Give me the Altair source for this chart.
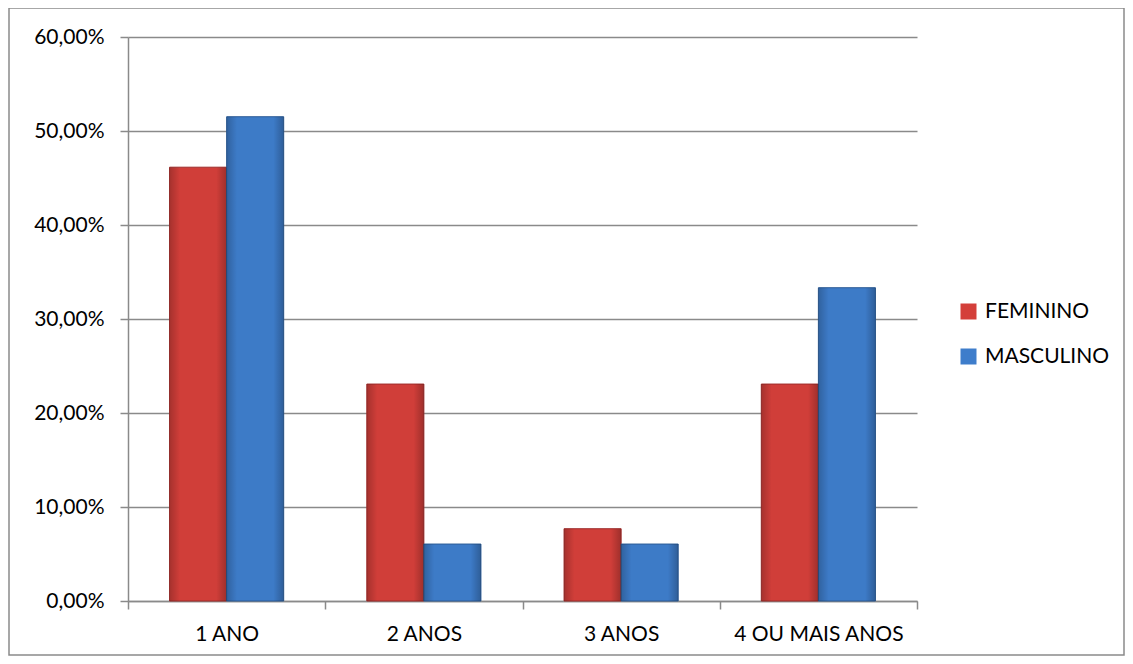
import altair as alt
import pandas as pd

categorias = ["1 ANO", "2 ANOS", "3 ANOS", "4 OU MAIS ANOS"]
series = ["FEMININO", "MASCULINO"]
feminino = [0.4615, 0.2308, 0.0769, 0.2308]
masculino = [0.5152, 0.0606, 0.0606, 0.3333]
cores = ["#D43F3A", "#3E7DCB"]
bordas = ["#A02E2C", "#2E5E98"]
y_ticks = [0, 0.1, 0.2, 0.3, 0.4, 0.5, 0.6]

rows = []
for c, f, m in zip(categorias, feminino, masculino):
    rows.append({"cat": c, "sexo": series[0], "valor": f})
    rows.append({"cat": c, "sexo": series[1], "valor": m})
df = pd.DataFrame(rows)

GRAY = "#8a8a8a"
FONT = "Lato"
FS = 21

x_enc = alt.X(
    "cat:N", sort=categorias, title=None,
    scale=alt.Scale(paddingInner=0, paddingOuter=0),
    axis=alt.Axis(labelAngle=0, tickBand="extent", tickSize=8, domainColor=GRAY,
                  tickColor=GRAY, domainWidth=1.5, tickWidth=1.5,
                  labelFont=FONT, labelFontSize=FS, labelColor="black",
                  labelPadding=14, grid=False),
)
y_enc = alt.Y(
    "valor:Q", title=None,
    scale=alt.Scale(domain=[0, 0.6], nice=False),
    axis=alt.Axis(values=y_ticks, labelExpr="replace(format(datum.value, '.2%'), '.', ',')",
                  tickSize=8, tickColor=GRAY, domainColor=GRAY, domainWidth=1.5, tickWidth=1.5,
                  grid=True, gridColor=GRAY, gridWidth=1.5,
                  labelFont=FONT, labelFontSize=FS, labelColor="black", labelPadding=16),
)
xoff = alt.XOffset("sexo:N", sort=series,
                   scale=alt.Scale(paddingInner=0, paddingOuter=0.728))

base = alt.Chart(df)

bars = base.mark_bar(strokeWidth=1).encode(
    x=x_enc,
    y=y_enc,
    xOffset=xoff,
    color=alt.Color("sexo:N", sort=series,
                    scale=alt.Scale(domain=series, range=cores),
                    legend=alt.Legend(title=None, orient="none", legendX=830, legendY=264,
                                      symbolType="square", symbolSize=256,
                                      symbolStrokeWidth=0,
                                      labelFont=FONT, labelFontSize=FS, labelColor="black",
                                      rowPadding=23, labelOffset=6)),
    stroke=alt.Stroke("sexo:N", sort=series,
                      scale=alt.Scale(domain=series, range=bordas), legend=None),
)

shade = base.mark_bar(
    fill={"gradient": "linear", "x1": 0, "x2": 1, "y1": 0, "y2": 0,
          "stops": [{"offset": 0, "color": "rgba(0,0,0,0.22)"},
                    {"offset": 0.18, "color": "rgba(0,0,0,0.02)"},
                    {"offset": 0.82, "color": "rgba(0,0,0,0.02)"},
                    {"offset": 1, "color": "rgba(0,0,0,0.25)"}]}
).encode(
    x=alt.X("cat:N", sort=categorias),
    y=alt.Y("valor:Q"),
    xOffset=xoff,
)

frame = alt.Chart(pd.DataFrame({"f": [0]})).mark_rect(
    fill="transparent", stroke=GRAY, strokeWidth=1.5
).encode(x=alt.value(-119), x2=alt.value(996), y=alt.value(-29), y2=alt.value(618))

chart = alt.layer(frame, bars, shade).properties(
    width=789, height=564,
    padding={"left": 120, "top": 29, "right": 208, "bottom": 55},
    autosize=alt.AutoSizeParams(type="none"),
).configure_view(stroke=None)

chart.save("out.html", embed_options={"renderer": "svg", "actions": False})
